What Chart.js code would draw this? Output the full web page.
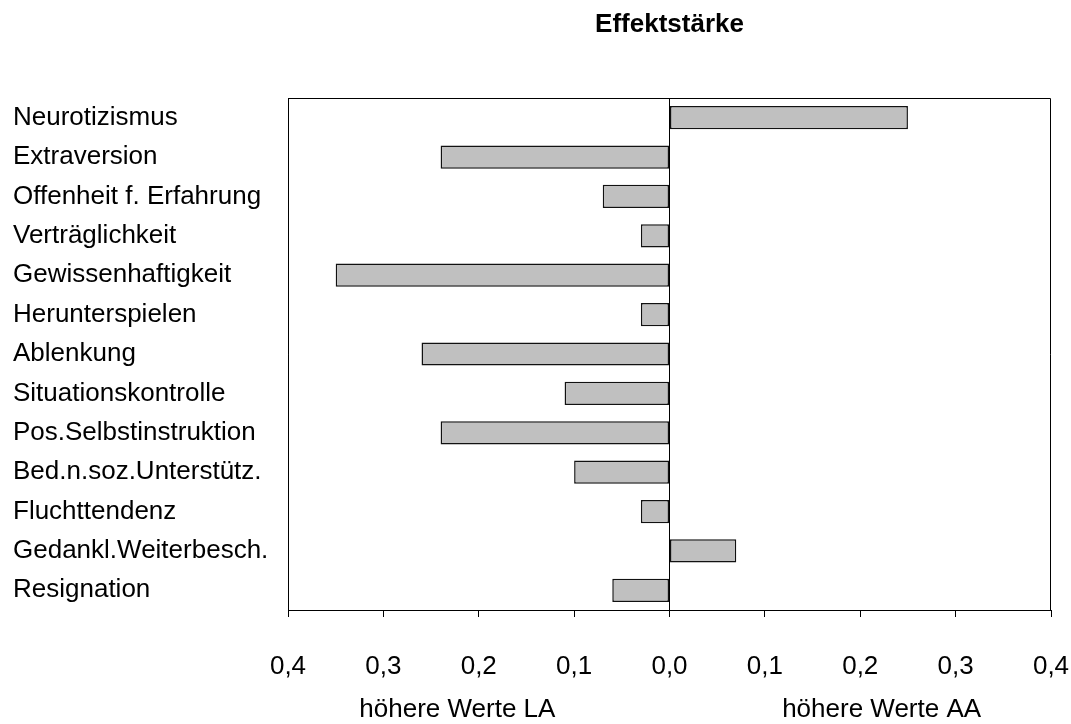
<!DOCTYPE html>
<html>
<head>
<meta charset="utf-8">
<script src="https://cdn.jsdelivr.net/npm/chart.js@4/dist/chart.umd.min.js"></script>
<style>
  html, body { margin: 0; padding: 0; background: #fff; }
  #wrap { width: 1071px; height: 724px; }
</style>
</head>
<body>
<div id="wrap"><canvas id="c" width="1071" height="724"></canvas></div>
<script>
const categories = [
  "Neurotizismus", "Extraversion", "Offenheit f. Erfahrung", "Verträglichkeit",
  "Gewissenhaftigkeit", "Herunterspielen", "Ablenkung", "Situationskontrolle",
  "Pos.Selbstinstruktion", "Bed.n.soz.Unterstütz.", "Fluchttendenz",
  "Gedankl.Weiterbesch.", "Resignation"
];
const effectValues = [0.25, -0.24, -0.07, -0.03, -0.35, -0.03, -0.26, -0.11, -0.24, -0.10, -0.03, 0.07, -0.06];
const tickValues = [-0.4, -0.3, -0.2, -0.1, 0.0, 0.1, 0.2, 0.3, 0.4];
const chartTitle = "Effektstärke";
const leftAxisTitle = "höhere Werte LA";
const rightAxisTitle = "höhere Werte AA";

const FONT = "'Liberation Sans', Arial, sans-serif";

const decorPlugin = {
  id: 'decor',
  afterDraw(chart) {
    const ctx = chart.ctx;
    const a = chart.chartArea;
    ctx.save();
    ctx.strokeStyle = '#000';
    ctx.lineWidth = 1;
    ctx.beginPath();
    ctx.moveTo(a.left + 0.5, a.bottom);
    ctx.lineTo(a.left + 0.5, a.top + 0.5);
    ctx.lineTo(a.right - 0.5, a.top + 0.5);
    ctx.lineTo(a.right - 0.5, a.bottom);
    ctx.stroke();
    ctx.fillStyle = '#000';
    ctx.textAlign = 'center';
    ctx.textBaseline = 'middle';
    ctx.font = "bold 26px " + FONT;
    ctx.fillText(chartTitle, (a.left + a.right) / 2, 25);
    ctx.font = "26px " + FONT;
    const w = a.right - a.left;
    ctx.fillText(leftAxisTitle, a.left + 0.222 * w, 710);
    ctx.fillText(rightAxisTitle, a.right - 0.222 * w, 710);
    ctx.restore();
  }
};

new Chart(document.getElementById('c'), {
  type: 'bar',
  data: {
    labels: categories,
    datasets: [{
      data: effectValues,
      backgroundColor: '#c0c0c0',
      borderColor: '#111',
      borderWidth: 1.5,
      borderSkipped: false,
      categoryPercentage: 1.0,
      barPercentage: 0.59
    }]
  },
  options: {
    indexAxis: 'y',
    responsive: false,
    animation: false,
    devicePixelRatio: 1,
    layout: { padding: { left: 13, top: 98, right: 20, bottom: 0 } },
    plugins: {
      legend: { display: false },
      title: { display: false },
      tooltip: { enabled: false }
    },
    scales: {
      x: {
        type: 'linear',
        min: -0.4,
        max: 0.4,
        afterBuildTicks(scale) { scale.ticks = tickValues.map(v => ({ value: v })); },
        afterFit(scale) {
          scale.height = 114;
          scale.paddingLeft = 0;
          scale.paddingRight = 0;
        },
        grid: {
          drawOnChartArea: true,
          drawTicks: true,
          tickLength: 7,
          color: (c) => (c.tick && Math.abs(c.tick.value) < 1e-9) ? '#000' : 'rgba(0,0,0,0)',
          tickColor: '#000',
          lineWidth: 1
        },
        border: { display: true, color: '#000', width: 1 },
        ticks: {
          padding: 34,
          color: '#000',
          font: { family: FONT, size: 26 },
          maxRotation: 0,
          callback: (v) => Math.abs(v).toFixed(1).replace('.', ',')
        }
      },
      y: {
        afterFit(scale) {
          scale.width = 275;
          scale.paddingTop = 0;
          scale.paddingBottom = 0;
        },
        grid: { display: false },
        border: { display: true, color: '#000', width: 1 },
        ticks: {
          crossAlign: 'far',
          color: '#000',
          padding: 0,
          font: { family: FONT, size: 26 },
          autoSkip: false
        }
      }
    }
  },
  plugins: [decorPlugin]
});
</script>
</body>
</html>
